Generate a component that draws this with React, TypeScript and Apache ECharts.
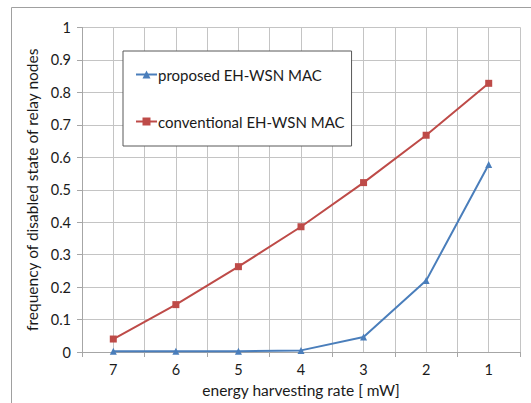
import React, { useEffect, useRef } from "react";
import * as echarts from "echarts";

const categories = ["7", "6", "5", "4", "3", "2", "1"];
const proposed = [0.002, 0.002, 0.002, 0.005, 0.046, 0.22, 0.578];
const conventional = [0.04, 0.146, 0.263, 0.386, 0.522, 0.668, 0.828];
const seriesNames = ["proposed EH-WSN MAC", "conventional EH-WSN MAC"];
const xName = "energy harvesting rate [ mW]";
const yName = "frequency of disabled state of relay nodes";

const FONT = "Lato";
const GRID = "#c4c4c4";
const AXIS = "#a6a6a6";

export default function App() {
  const ref = useRef<HTMLDivElement>(null);
  useEffect(() => {
    if (!ref.current) return;
    const chart = echarts.init(ref.current, null, { renderer: "svg" });
    chart.setOption({
      animation: false,
      backgroundColor: "#fff",
      textStyle: { fontFamily: FONT },
      grid: { left: 82, right: 11, top: 27.5, bottom: 47, containLabel: false },
      graphic: [
        {
          type: "rect",
          shape: { x: 11.5, y: 7.5, width: 700, height: 600 },
          style: { fill: "none", stroke: "#a0a0a0", lineWidth: 1 },
          silent: true,
          z: 0,
        },
      ],
      legend: {
        orient: "vertical",
        left: 123,
        top: 51,
        padding: [16, 7, 17, 12],
        itemGap: 32,
        itemWidth: 21,
        itemHeight: 10,
        backgroundColor: "#fff",
        borderColor: "#595959",
        borderWidth: 1,
        textStyle: { fontFamily: FONT, fontSize: 15, color: "#1a1a1a", padding: [0, 0, 0, -4] },
        data: [
          { name: seriesNames[0], itemStyle: { borderWidth: 0 } },
          { name: seriesNames[1], itemStyle: { borderWidth: 0 } },
        ],
      },
      xAxis: [
        {
          type: "category",
          data: categories,
          boundaryGap: true,
          name: xName,
          nameLocation: "middle",
          nameGap: 30,
          nameTextStyle: { fontFamily: FONT, fontSize: 15.5, color: "#1a1a1a" },
          axisLine: { lineStyle: { color: AXIS } },
          axisTick: { show: true, length: 5, lineStyle: { color: AXIS } },
          axisLabel: { fontFamily: FONT, fontSize: 14.5, color: "#1a1a1a", margin: 10 },
          splitLine: { show: true, lineStyle: { color: GRID } },
        },
        {
          type: "value",
          min: 0,
          max: 14,
          interval: 1,
          position: "bottom",
          axisLine: { show: false },
          axisTick: { show: false },
          axisLabel: { show: false },
          splitLine: { show: true, lineStyle: { color: GRID } },
        },
      ],
      yAxis: {
        type: "value",
        min: 0,
        max: 1,
        interval: 0.1,
        name: yName,
        nameLocation: "middle",
        nameRotate: 90,
        nameGap: 37,
        nameTextStyle: { fontFamily: FONT, fontSize: 15.5, color: "#1a1a1a" },
        axisLine: { show: true, lineStyle: { color: AXIS } },
        axisTick: { show: true, length: 5, lineStyle: { color: AXIS } },
        axisLabel: {
          fontFamily: FONT,
          fontSize: 14.5,
          color: "#1a1a1a",
          margin: 11,
          formatter: (v: number) => String(Math.round(v * 10) / 10),
        },
        splitLine: { show: true, lineStyle: { color: GRID } },
      },
      series: [
        {
          name: seriesNames[0],
          type: "line",
          xAxisIndex: 0,
          data: proposed,
          symbol: "triangle",
          symbolSize: 7,
          itemStyle: { color: "#4a7ebb" },
          lineStyle: { color: "#4a7ebb", width: 2 },
          z: 3,
        },
        {
          name: seriesNames[1],
          type: "line",
          xAxisIndex: 0,
          data: conventional,
          symbol: "rect",
          symbolSize: 7,
          itemStyle: { color: "#be4b48" },
          lineStyle: { color: "#be4b48", width: 2 },
          z: 3,
        },
      ],
    });
    return () => chart.dispose();
  }, []);
  return (
    <div
      ref={ref}
      style={{ position: "fixed", left: 0, top: 0, width: 531, height: 403 }}
    />
  );
}
